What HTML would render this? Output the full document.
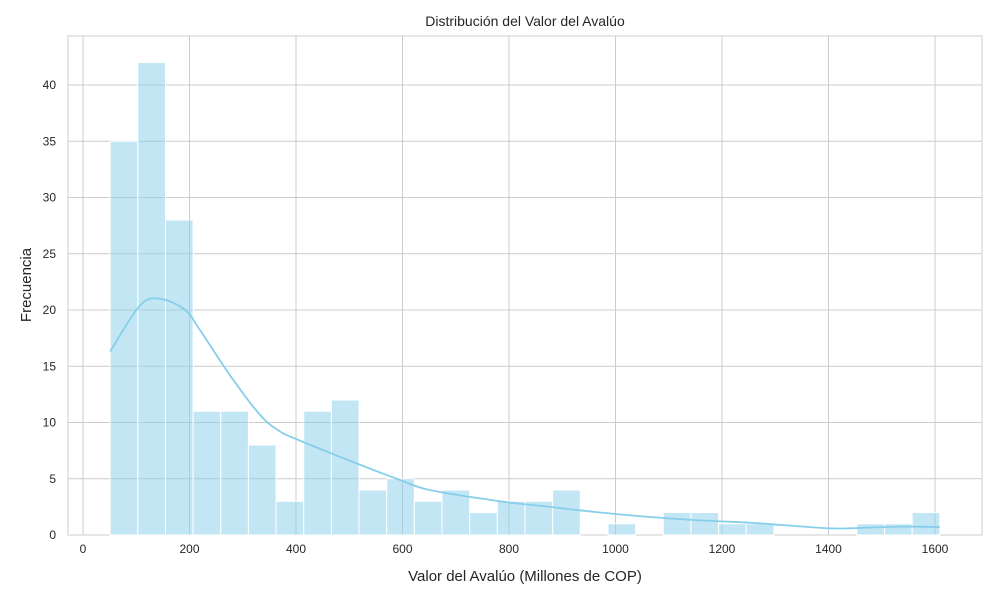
<!DOCTYPE html>
<html><head><meta charset="utf-8"><style>
body{margin:0;background:#fff;font-family:"Liberation Sans",sans-serif;}
</style></head><body>
<svg id="chart" width="1000" height="600" xmlns="http://www.w3.org/2000/svg" font-family="Liberation Sans, sans-serif"></svg>
<script>
const binStart = 51, binEnd = 1609;
const counts = [35,42,28,11,11,8,3,11,12,4,5,3,4,2,3,3,4,0,1,0,2,2,1,1,0,0,0,1,1,2];
const kdeX = [51,107,145,192,220,276,332,370,407,464,539,595,651,783,877,971,1065,1159,1250,1309,1400,1440,1534,1609];
const kdeY = [16.3,20.4,21.0,20.0,18.2,14.2,10.7,9.2,8.4,7.3,5.9,4.9,4.0,3.0,2.5,2.0,1.6,1.3,1.1,0.9,0.6,0.6,0.75,0.7];
const xTicks = [0,200,400,600,800,1000,1200,1400,1600];
const yTicks = [0,5,10,15,20,25,30,35,40];

const svg = document.getElementById('chart');
const NS = 'http://www.w3.org/2000/svg';
const L=68,R=982,T=36,B=535;
const xs = v => 83 + v*0.5325;
const ys = v => 535 - v*11.25;
function mk(tag, attrs, parent){const e=document.createElementNS(NS,tag);for(const k in attrs)e.setAttribute(k,attrs[k]);(parent||svg).appendChild(e);return e;}

const frame = mk('rect',{x:L,y:T,width:R-L,height:B-T,fill:'#fff',stroke:'#cccccc','stroke-width':1});



xTicks.forEach(t=>{
  const g = mk('line',{x1:xs(t),x2:xs(t),y1:T,y2:B,stroke:'#cccccc','stroke-width':1});
  
  
  const tx = mk('text',{x:xs(t),y:553,'text-anchor':'middle','font-size':12,fill:'#262626'});
  tx.textContent=t;
  
  
});
yTicks.forEach(t=>{
  const g = mk('line',{x1:L,x2:R,y1:ys(t),y2:ys(t),stroke:'#cccccc','stroke-width':1});
  
  
  const tx = mk('text',{x:56,y:ys(t)+4,'text-anchor':'end','font-size':12,fill:'#262626'});
  tx.textContent=t;
  
  
});

const w = (binEnd-binStart)/counts.length;
counts.forEach((c,i)=>{
  if(c<=0) return;
  const x0=xs(binStart+i*w), x1=xs(binStart+(i+1)*w);
  const r = mk('rect',{x:x0,y:ys(c),width:x1-x0,height:ys(0)-ys(c),fill:'#87ceeb','fill-opacity':0.5,stroke:'#fff','stroke-width':1});
  
  
});

const pts = kdeX.map((v,i)=>[xs(v),ys(kdeY[i])]);
let d='M'+pts[0][0].toFixed(1)+','+pts[0][1].toFixed(1);
for(let i=0;i<pts.length-1;i++){
  const p0=pts[Math.max(0,i-1)],p1=pts[i],p2=pts[i+1],p3=pts[Math.min(pts.length-1,i+2)];
  const c1=[p1[0]+(p2[0]-p0[0])/6,p1[1]+(p2[1]-p0[1])/6];
  const c2=[p2[0]-(p3[0]-p1[0])/6,p2[1]-(p3[1]-p1[1])/6];
  d+='C'+c1.map(n=>n.toFixed(1)).join(',')+' '+c2.map(n=>n.toFixed(1)).join(',')+' '+p2.map(n=>n.toFixed(1)).join(',');
}
const p = mk('path',{d:d,fill:'none',stroke:'#87ceeb','stroke-width':1.8,'stroke-linejoin':'round'});



const title = mk('text',{x:525,y:26,'text-anchor':'middle','font-size':14,fill:'#262626'});
title.textContent='Distribución del Valor del Avalúo';


const xl = mk('text',{x:525,y:581,'text-anchor':'middle','font-size':15,fill:'#262626'});
xl.textContent='Valor del Avalúo (Millones de COP)';


const yl = mk('text',{x:31,y:285,'text-anchor':'middle','font-size':15,fill:'#262626',transform:'rotate(-90 31 285)'});
yl.textContent='Frecuencia';


</script>
</body></html>
